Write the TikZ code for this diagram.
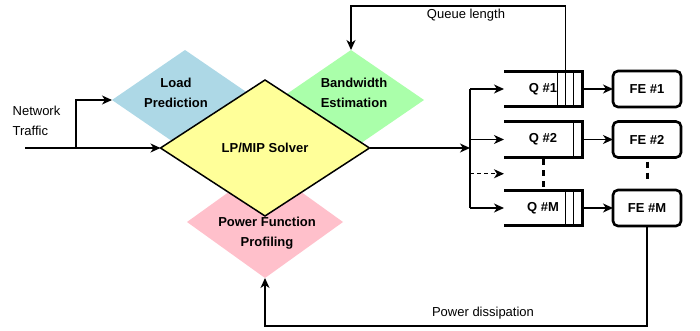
\documentclass[tikz,border=0pt]{standalone}
\usepackage{fontspec}
\setmainfont{Liberation Sans}
\usetikzlibrary{arrows.meta, positioning, shapes.geometric, calc}

\definecolor{loadblue}{RGB}{173,216,230}
\definecolor{bwgreen}{RGB}{170,255,170}
\definecolor{pfpink}{RGB}{255,192,203}
\definecolor{lpyellow}{RGB}{255,255,153}

\begin{document}
\begin{tikzpicture}[x=1pt, y=-1pt,
    font=\fontsize{13}{19.5}\selectfont,
    >={Stealth[length=10pt, width=9pt, inset=3pt]},
    line width=1.3pt,
    dia/.style={diamond, inner sep=0pt, outer sep=0pt},
    lbl/.style={align=center, font=\fontsize{13}{19.5}\selectfont\bfseries},
    queue/.style={minimum width=78pt, minimum height=35pt, inner sep=0pt, outer sep=0pt, font=\fontsize{13}{19.5}\selectfont\bfseries},
    qline/.style={line width=3pt},
    slot/.style={line width=1.2pt},
    fe/.style={draw, line width=2.6pt, rounded corners=5pt, minimum width=68pt, minimum height=36pt, inner sep=0pt, outer sep=0pt, font=\fontsize{13}{19.5}\selectfont\bfseries},
    dots/.style={line width=3pt, dash pattern=on 6pt off 5pt},
    ]
    \useasboundingbox (0,0) rectangle (700,331);

    % Side blocks behind the solver
    \node[dia, fill=loadblue, minimum width=146pt, minimum height=100pt] (load) at (185,100) {};
    \node[dia, fill=bwgreen, minimum width=146pt, minimum height=100pt] (bw) at (351,100) {};
    \node[dia, fill=pfpink, minimum width=156pt, minimum height=112pt] (pfp) at (265,222) {};

    % Solver
    \node[dia, draw, fill=lpyellow, line width=1.5pt, minimum width=209pt, minimum height=136pt, font=\fontsize{13}{19.5}\selectfont\bfseries] (lp) at (265,148) {LP/MIP Solver};

    \node[lbl] (loadtxt) at (176,93) {Load\\Prediction};
    \node[lbl] (bwtxt) at (354,93) {Bandwidth\\Estimation};
    \node[lbl] (pfptxt) at (267,233) {Power Function\\Profiling};

    % Input traffic
    \node[anchor=west, align=left, inner xsep=0pt] (traffic) at (12,121) {Network\\Traffic};
    \coordinate (src) at (25,148);
    \coordinate (split) at (76,148);
    \draw[->] (src) -- (lp.west);
    \draw[->] (split) |- (load.west);

    % Queues
    \node[queue] (q1) at (543,89) {Q \#1};
    \node[queue, below=15.5pt of q1] (q2) {Q \#2};
    \node[queue, below=33.5pt of q2] (qm) {Q \#M};
    \foreach \q/\n in {q1/3, q2/1, qm/2} {
      \draw[qline] (\q.north west) -- (\q.north east) -- (\q.south east) -- (\q.south west);
      \foreach \k in {1,...,\n}
        \draw[slot] ([xshift=-\k*8.3pt]\q.north east) -- ([xshift=-\k*8.3pt]\q.south east);
    }
    \draw[dots] ([yshift=-2pt]q2.south) -- ([yshift=2.5pt]qm.north);

    % Forwarding engines
    \node[fe, right=31pt of q1] (fe1) {FE \#1};
    \node[fe, right=31pt of q2] (fe2) {FE \#2};
    \node[fe, right=31pt of qm] (fem) {FE \#M};
    \draw[dots] ([yshift=-4pt]fe2.south) -- ([yshift=10pt]fem.north);

    % Solver output fans out to the queues
    \coordinate (bus) at (470,148);
    \draw[->] (lp.east) -- (bus);
    \draw (bus |- q1.west) -- (bus |- qm.west);
    \foreach \q in {q1, q2, qm}
      \draw[->] (bus |- \q.west) -- (\q.west);
    \coordinate (gap) at ($(q2.south west)!0.5!(qm.north west)$);
    \draw[->, dash pattern=on 4pt off 3pt] (bus |- gap) -- (gap);

    \foreach \q/\f in {q1/fe1, q2/fe2, qm/fem}
      \draw[->] (\q.east) -- (\f.west);

    % Feedback loops
    \draw[->] ([xshift=-16.6pt]q1.north east) -- ++(0,-65.5) -| (bw.north);
    \node (qlen) at (466,15) {Queue length};

    \draw[->] (fem.south) -- ++(0,100) -| (pfp.south);
    \node (pdiss) at (483,313) {Power dissipation};
\end{tikzpicture}
\end{document}
